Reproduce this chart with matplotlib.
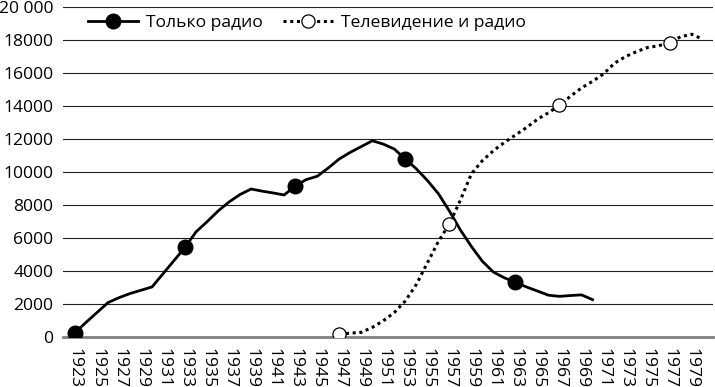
import matplotlib
matplotlib.use("Agg")
import matplotlib.pyplot as plt
from matplotlib.ticker import FixedLocator, FixedFormatter

plt.rcParams['font.family'] = ['Open Sans', 'DejaVu Sans']

radio_years = list(range(1923, 1971))
radio_values = [280, 900, 1500, 2100, 2400, 2650, 2850, 3050, 3850, 4650,
                5450, 6390, 7000, 7650, 8200, 8650, 8980, 8850, 8740, 8620,
                9160, 9550, 9750, 10250, 10800, 11200, 11550, 11900, 11700, 11400,
                10800, 10200, 9500, 8700, 7650, 6500, 5500, 4600, 3950, 3600,
                3330, 3050, 2800, 2550, 2480, 2530, 2570, 2280]

tv_years = list(range(1947, 1981))
tv_values = [200, 250, 300, 600, 1000, 1500, 2200, 3200, 4500, 5800,
             6860, 8300, 9900, 10700, 11300, 11800, 12250, 12700, 13200, 13600,
             14050, 14600, 15100, 15500, 15950, 16600, 17000, 17300, 17550, 17650,
             17850, 18200, 18350, 18050]

series_names = ["Только радио", "Телевидение и радио"]
y_ticks = [0, 2000, 4000, 6000, 8000, 10000, 12000, 14000, 16000, 18000, 20000]
y_tick_labels = ["0", "2000", "4000", "6000", "8000", "10000", "12000",
                 "14000", "16000", "18000", "20 000"]
x_ticks = list(range(1923, 1980, 2))
x_tick_labels = [str(y) for y in x_ticks]

fig = plt.figure(figsize=(7.15, 3.87), dpi=100)
ax = fig.add_axes([0.0885, 0.1284, 0.9087, 0.8535])

ax.plot(radio_years, radio_values, color='black', lw=2.0, marker='o',
        markersize=10.5, markevery=10, markerfacecolor='black',
        markeredgecolor='black', label=series_names[0], zorder=3)
ax.plot(tv_years, tv_values, color='black', lw=2.2, linestyle=(0, (1, 1.2)),
        marker='o', markersize=9.5, markevery=10, markerfacecolor='white',
        markeredgecolor='black', markeredgewidth=0.9, label=series_names[1],
        zorder=3)

ax.set_xlim(1921.94, 1980.94)
ax.set_ylim(0, 20000)
ax.yaxis.set_major_locator(FixedLocator(y_ticks))
ax.yaxis.set_major_formatter(FixedFormatter(y_tick_labels))
ax.xaxis.set_major_locator(FixedLocator(x_ticks))
ax.xaxis.set_major_formatter(FixedFormatter(x_tick_labels))

for lab in ax.get_xticklabels():
    lab.set_rotation(-90)
    lab.set_ha('center')
    lab.set_va('top')

ax.tick_params(axis='both', length=0, labelsize=12.6)
ax.tick_params(axis='x', pad=8)
ax.tick_params(axis='y', pad=7)

ax.grid(axis='y', color='#222222', lw=0.8, zorder=1)
ax.set_axisbelow(True)
for s in ['left', 'right', 'top']:
    ax.spines[s].set_visible(False)
ax.spines['bottom'].set_color('#808080')
ax.spines['bottom'].set_linewidth(2)

leg = ax.legend(ncol=2, loc='center left', bbox_to_anchor=(0.038, 0.952),
                frameon=False, fontsize=12.6, handlelength=2.85,
                handletextpad=0.45, columnspacing=1.2, borderaxespad=0,
                borderpad=0)

fig.savefig("out.png", dpi=100)
